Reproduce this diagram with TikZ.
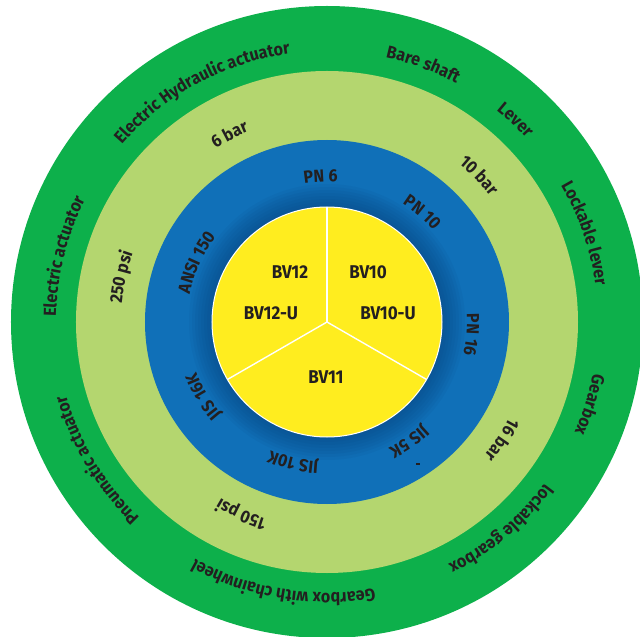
\documentclass[tikz,border=0pt]{standalone}
\usepackage{fontspec}
\setmainfont{Fira Sans}
\newfontfamily\labelfont[FakeStretch=0.92]{Fira Sans}
\usetikzlibrary{decorations.text}
\definecolor{ringgreen}{HTML}{0DB04B}
\definecolor{palegreen}{HTML}{B4D66F}
\definecolor{ringblue}{HTML}{1070B8}
\definecolor{deepblue}{HTML}{0A3F7A}
\definecolor{coreyellow}{HTML}{FFED1F}
\definecolor{inkdark}{HTML}{231F20}

% curved label: radius, middle angle, text (runs clockwise, tops outward)
\newcommand{\ringlabel}[3]{%
  \path[decorate, decoration={text along path, text align=center, text color=inkdark,
      text={|\labelfont\fontsize{17.5}{19}\selectfont\bfseries|#3}}]
    (#2+45:#1pt) arc[start angle=#2+45, end angle=#2-45, radius=#1pt];}

\begin{document}
\begin{tikzpicture}[x=1pt, y=1pt,
  corelabel/.style={font=\labelfont\fontsize{18.5}{20}\selectfont\bfseries, text=inkdark, inner sep=0pt}]
\useasboundingbox (-327,-315) rectangle (313,322);
\clip (-327,-315) rectangle (313,322);
\coordinate (hub) at (0,0);

% rings from outside in
\fill[ringgreen] (hub) circle (316);
\fill[palegreen] (hub) circle (251);
\fill[ringblue] (hub) circle (182);
% soft shadow round the core
\foreach \r in {138,135,...,115}
  \fill[deepblue, opacity=0.08] (hub) circle (\r);
\fill[coreyellow, draw=white, line width=1pt] (hub) circle (115);

% three sectors
\draw[white, line width=1.4pt] (hub) -- (90:115pt);
\draw[white, line width=1.4pt] (hub) -- (210:115pt);
\draw[white, line width=1.4pt] (hub) -- (330:115pt);

\node[corelabel] (bv12) at (-37,50) {BV12};
\node[corelabel] (bv10) at (41,50) {BV10};
\node[corelabel] (bv12u) at (-56,9) {BV12-U};
\node[corelabel] (bv10u) at (61,9) {BV10-U};
\node[corelabel] (bv11) at (-1,-55) {BV11};

% flange standards
\ringlabel{140}{92.5}{PN 6}
\ringlabel{140}{49}{PN 10}
\ringlabel{140}{-5}{PN 16}
\ringlabel{140}{-55.5}{JIS 5K}
\ringlabel{140}{-103.5}{JIS 10K}
\ringlabel{140}{-149}{JIS 16K}
\ringlabel{140}{155.5}{ANSI 150}
\draw[inkdark, line width=1.2pt] (89,-142) -- (93,-142);

% pressure ratings
\ringlabel{206}{117.5}{6 bar}
\ringlabel{206}{44}{10 bar}
\ringlabel{206}{-34}{16 bar}
\ringlabel{206}{-114}{150 psi}
\ringlabel{206}{167.7}{250 psi}

% operators
\ringlabel{271}{118.5}{Electric Hydraulic actuator}
\ringlabel{271}{69.5}{Bare shaft}
\ringlabel{271}{47}{Lever}
\ringlabel{271}{19}{Lockable lever}
\ringlabel{271}{-17.5}{Gearbox}
\ringlabel{271}{-50}{lockable gearbox}
\ringlabel{271}{-99.5}{Gearbox with chainwheel}
\ringlabel{271}{-149}{Pneumatic actuator}
\ringlabel{271}{166}{Electric actuator}
\end{tikzpicture}
\end{document}
